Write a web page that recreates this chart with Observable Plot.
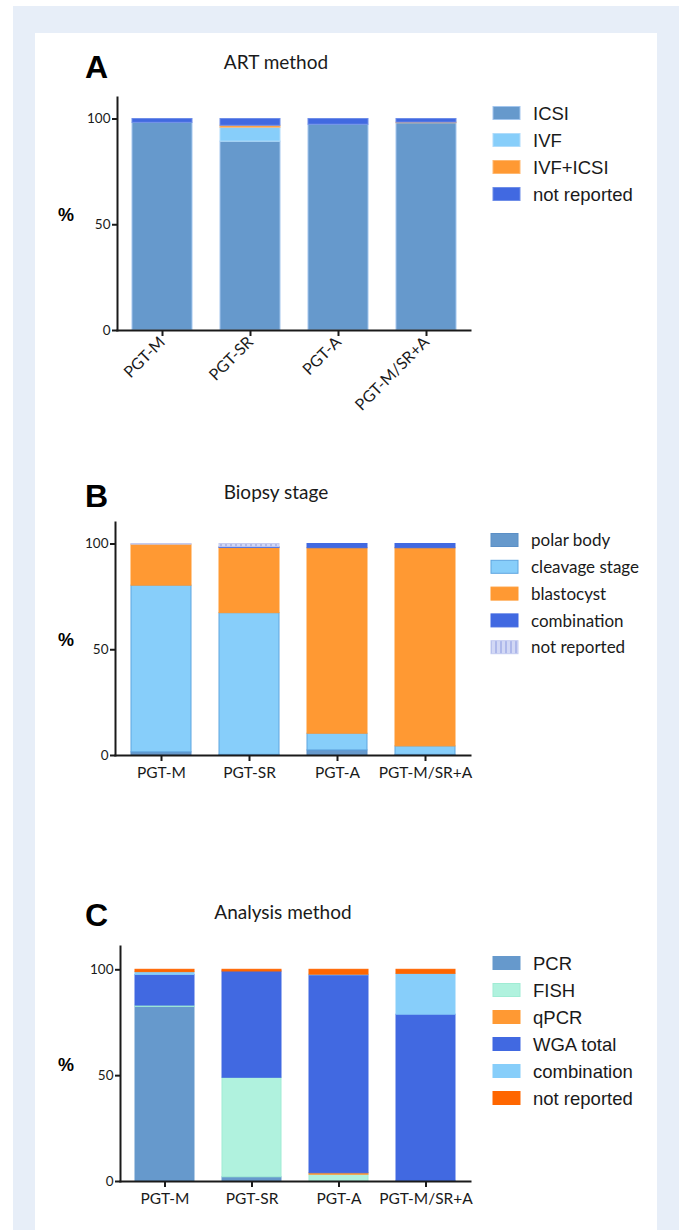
<!DOCTYPE html>
<html><head><meta charset="utf-8">
<script src="https://cdn.jsdelivr.net/npm/d3@7"></script>
<script src="https://cdn.jsdelivr.net/npm/@observablehq/plot@0.6"></script>
<style>
body{margin:0;background:#fff;}
#page{position:relative;width:679px;height:1230px;overflow:hidden;}
.outer{position:absolute;left:13px;top:6px;width:666px;height:1240px;background:#e7eef8;}
.inner{position:absolute;left:35px;top:33px;width:622px;height:1220px;background:#fff;}
#page svg.plot{position:absolute;}
#overlay{position:absolute;left:0;top:0;}
</style></head><body>
<div id="page"><div class="outer"></div><div class="inner"></div></div>
<script>
// ---------- data ----------
const groups = ["PGT-M", "PGT-SR", "PGT-A", "PGT-M/SR+A"];

// Panel A: ART method (%)
const artSeries = ["ICSI", "IVF", "IVF+ICSI", "not reported"];
const artICSI        = [98.2, 89.3, 97.3, 98.0];
const artIVF         = [0, 6.6, 0, 0];
const artIVFICSI     = [0, 0.9, 0, 0.3];
const artNotReported = [1.8, 3.2, 2.7, 1.7];

// Panel B: Biopsy stage (%)
const biopsySeries = ["polar body", "cleavage stage", "blastocyst", "combination", "not reported"];
const bioPolarBody   = [1.5, 0.3, 2.4, 0.3];
const bioCleavage    = [78.8, 67.0, 7.9, 4.0];
const bioBlastocyst  = [19.4, 30.8, 87.7, 93.7];
const bioCombination = [0, 0.4, 2.0, 2.0];
const bioNotReported = [0.3, 1.5, 0, 0];

// Panel C: Analysis method (%)
const anaSeries = ["PCR", "FISH", "qPCR", "WGA total", "combination", "not reported"];
const anaPCR         = [82.5, 2.0, 0, 0.3];
const anaFISH        = [0.6, 47.0, 3.2, 0];
const anaQPCR        = [0, 0, 0.7, 0];
const anaWGA         = [14.5, 50.2, 93.5, 78.5];
const anaCombination = [1.3, 0, 0.3, 19.3];
const anaNotReported = [1.1, 0.8, 2.3, 1.9];

const yTicks = [0, 50, 100];

// ---------- styles ----------
const artFill = ["#6699cc", "#87cefa", "#ff9933", "#4169e1"];
const artStroke = ["#a3c6ee", "#b0dcfb", "#ffb870", "#6f8ee8"];
const bioFill = ["#6699cc", "#87cefa", "#ff9933", "#4169e1", "url(#stripesB)"];
const bioStroke = ["#5b8fc6", "#5ea6e0", "#ff9933", "#4169e1", "#c4cbf0"];
const anaFill = ["#6699cc", "#b0f2de", "#ff9933", "#4169e1", "#87cefa", "#ff6600"];
const anaStroke = ["#6699cc", "#a0ecd4", "#ff9933", "#4169e1", "#87cefa", "#ff6600"];

function stackTable(series, values) {
  const rows = [];
  groups.forEach((g, gi) => {
    let acc = 0;
    series.forEach((s, si) => {
      const v = values[si][gi];
      rows.push({group: g, series: s, y1: acc, y2: acc + v});
      acc += v;
    });
  });
  return rows;
}

function panel(cfg) {
  const table = stackTable(cfg.series, cfg.values);
  const width = cfg.xEnd + 10 - cfg.left;
  const k = (cfg.y0 - cfg.y100) / 100;
  const ymax = (cfg.y0 - cfg.axisTop) / k;
  const marks = cfg.series.map((s, i) =>
    Plot.barY(table.filter(d => d.series === s && d.y2 > d.y1), {
      x: "group", y1: "y1", y2: "y2",
      fill: cfg.fills[i], stroke: cfg.strokes[i], strokeWidth: 1
    })
  );
  marks.push(
    Plot.axisY({ticks: yTicks, tickSize: 5, tickPadding: 2, strokeWidth: 2, fontSize: 13.5, tickFormat: d => d}),
    Plot.axisX({tickSize: 6, tickPadding: cfg.rotate ? 3 : 5, strokeWidth: 2, fontSize: cfg.rotate ? 16 : 15.5, tickRotate: cfg.rotate || 0}),
    Plot.frame({anchor: "left", strokeWidth: 2}),
    Plot.frame({anchor: "bottom", strokeWidth: 2})
  );
  const svg = Plot.plot({
    width,
    height: cfg.y0 - cfg.top + cfg.marginBottom,
    marginLeft: cfg.axisX - cfg.left,
    marginRight: 10,
    marginTop: cfg.axisTop - cfg.top,
    marginBottom: cfg.marginBottom,
    style: {fontFamily: "Lato, sans-serif", color: "#1a1a1a", background: "none", overflow: "visible"},
    x: {domain: groups, paddingInner: 0.32, paddingOuter: 0.16, label: null},
    y: {domain: [0, ymax], label: null},
    marks
  });
  svg.classList.add("plot");
  svg.style.left = cfg.left + "px";
  svg.style.top = cfg.top + "px";
  if (cfg.defs) d3.select(svg).insert("defs", ":first-child").html(cfg.defs);
  document.getElementById("page").appendChild(svg);
}

panel({series: artSeries, values: [artICSI, artIVF, artIVFICSI, artNotReported],
  fills: artFill, strokes: artStroke,
  left: 40, top: 90, axisX: 117, xEnd: 470, y0: 330, y100: 118.5, axisTop: 97, marginBottom: 110, rotate: -45});

panel({series: biopsySeries, values: [bioPolarBody, bioCleavage, bioBlastocyst, bioCombination, bioNotReported],
  fills: bioFill, strokes: bioStroke,
  left: 40, top: 515, axisX: 115, xEnd: 470, y0: 755, y100: 543.5, axisTop: 522, marginBottom: 40,
  defs: '<pattern id="stripesB" patternUnits="userSpaceOnUse" width="5" height="5"><rect width="5" height="5" fill="#d2d8f5"/><rect x="0" width="2" height="5" fill="#aeb8ea"/></pattern>'});

panel({series: anaSeries, values: [anaPCR, anaFISH, anaQPCR, anaWGA, anaCombination, anaNotReported],
  fills: anaFill, strokes: anaStroke,
  left: 40, top: 940, axisX: 120, xEnd: 470, y0: 1181, y100: 969.3, axisTop: 946, marginBottom: 40});

// ---------- overlay text & legends ----------
const ov = d3.select("#page").append("svg").attr("id", "overlay").attr("width", 679).attr("height", 1230);
ov.append("defs").html('<pattern id="stripesL" patternUnits="userSpaceOnUse" width="5" height="5"><rect width="5" height="5" fill="#d2d8f5"/><rect x="0" width="2" height="5" fill="#aeb8ea"/></pattern>');
const letters = [["A", 78], ["B", 507], ["C", 926]];
letters.forEach(([t, y]) => ov.append("text").attr("x", 85).attr("y", y).text(t)
  .attr("font-family", "Liberation Sans, Arial, sans-serif").attr("font-weight", "bold").attr("font-size", 32));
const titles = [["ART method", 276, 69], ["Biopsy stage", 276, 499], ["Analysis method", 283, 919]];
titles.forEach(([t, x, y]) => ov.append("text").attr("x", x).attr("y", y).attr("text-anchor", "middle").text(t)
  .attr("font-family", "Lato, sans-serif").attr("font-size", 19).attr("fill", "#1a1a1a"));
[221, 646, 1071].forEach(y => ov.append("text").attr("x", 58).attr("y", y).text("%")
  .attr("font-family", "Liberation Sans, Arial, sans-serif").attr("font-weight", "bold").attr("font-size", 18));

function legend(series, fills, strokes, x, y0, dy, font, size) {
  series.forEach((s, i) => {
    const cy = y0 + i * dy;
    ov.append("rect").attr("x", x).attr("y", cy - 6.5).attr("width", 27).attr("height", 13)
      .attr("fill", fills[i] === "url(#stripesB)" ? "url(#stripesL)" : fills[i]).attr("stroke", strokes[i]).attr("stroke-width", 1);
    ov.append("text").attr("x", x + 40).attr("y", cy + size * 0.36).text(s)
      .attr("font-family", font).attr("font-size", size).attr("fill", "#1a1a1a");
  });
}
legend(artSeries, artFill, artStroke, 493, 113, 27, "Liberation Sans, Arial, sans-serif", 18.5);
legend(biopsySeries, bioFill, bioStroke, 491, 540, 26.8, "Lato, sans-serif", 17);
legend(anaSeries, anaFill, anaStroke, 493, 963, 27, "Liberation Sans, Arial, sans-serif", 18.5);
</script>
</body></html>
